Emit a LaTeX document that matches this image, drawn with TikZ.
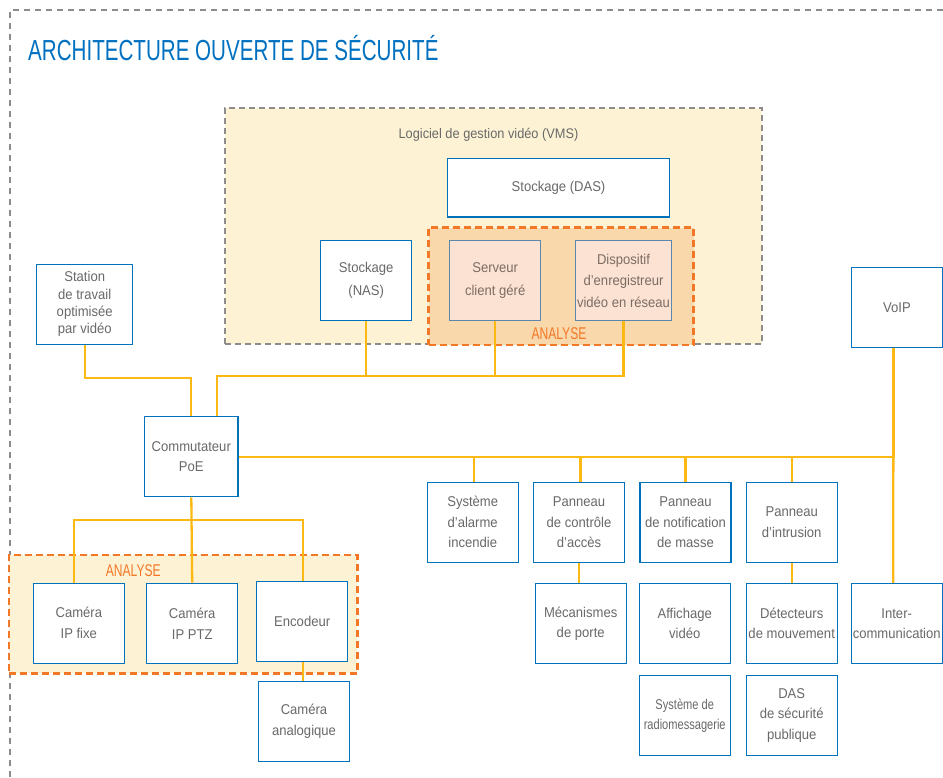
\documentclass[tikz,border=0pt]{standalone}
\usepackage{fontspec}
\setmainfont{Liberation Sans}[FakeStretch=0.92]
\newfontfamily\titlefont{Liberation Sans}[FakeStretch=0.71]
\newfontfamily\narrowfont{Liberation Sans}[FakeStretch=0.78]
\definecolor{boxblue}{RGB}{0,114,188}
\definecolor{titleblue}{RGB}{0,112,192}
\definecolor{txtgray}{RGB}{105,105,105}
\definecolor{linkyellow}{RGB}{253,185,19}
\definecolor{cream}{RGB}{253,243,212}
\definecolor{tan}{RGB}{249,216,172}
\definecolor{pinkfill}{RGB}{251,226,210}
\definecolor{pinkborder}{RGB}{90,135,170}
\definecolor{pinktext}{RGB}{125,108,100}
\definecolor{orangeline}{RGB}{242,120,40}
\definecolor{dashgray}{RGB}{140,140,140}
\tikzset{
  box/.style={draw=boxblue, line width=1.2pt, fill=white, text=txtgray, align=center,
    inner sep=0pt, minimum width=91pt, minimum height=80pt,
    font=\fontsize{14.2}{20.5}\selectfont},
  pinkbox/.style={box, fill=pinkfill, draw=pinkborder, text=pinktext},
  link/.style={draw=linkyellow, line width=2.3pt},
  vmsregion/.style={draw=dashgray, fill=cream, line width=1.1pt, dash pattern=on 6pt off 4pt, inner sep=0pt},
  anaregion/.style={draw=orangeline, line width=2.4pt, dash pattern=on 7pt off 4pt, inner sep=0pt},
  analbl/.style={text=orangeline, inner sep=0pt, font=\titlefont\fontsize{17}{20}\selectfont},
  outerborder/.style={draw=dashgray, line width=1.1pt, dash pattern=on 6pt off 5pt}
}
\begin{document}
\begin{tikzpicture}[x=1pt,y=-1pt]
\useasboundingbox (0,0) rectangle (943,777);
\draw[outerborder] (10,777) -- (10,10) -- (943,10);
\node[anchor=base west, text=titleblue, inner sep=0pt, font=\titlefont\fontsize{29}{34}\selectfont] (title) at (28,60) {ARCHITECTURE OUVERTE DE SÉCURITÉ};

% VMS region
\node[vmsregion, minimum width=537pt, minimum height=236pt] (vms) at (493.5,226) {};
\node[text=txtgray, inner sep=0pt, font=\fontsize{13.9}{16}\selectfont] (vmslbl) at (488.5,135) {Logiciel de gestion vidéo (VMS)};
\node[box, minimum width=222.5pt, minimum height=58.7pt] (das) at (558.5,187.7) {Stockage (DAS)};
\node[anaregion, fill=tan, minimum width=265pt, minimum height=117.3pt] (anatop) at (561,286.3) {};
\node[analbl] (analbltop) at (559,334) {ANALYSE};
\node[pinkbox, minimum width=90.7pt, font=\fontsize{14.2}{23}\selectfont] (serv) at (495.2,280.8) {Serveur\\client géré};
\node[pinkbox, minimum width=96.7pt, font=\fontsize{14.2}{21.5}\selectfont] (disp) at (623.5,280.8) {Dispositif\\d’enregistreur\\vidéo en réseau};
\node[box, minimum width=90.7pt, font=\fontsize{14.2}{23}\selectfont] (nas) at (366.2,280.8) {Stockage\\(NAS)};

% left column
\node[box, minimum width=96pt, font=\fontsize{14.2}{17.3}\selectfont] (station) at (84.7,304.2) {Station\\de travail\\optimisée\\par vidéo};
\node[box, minimum width=93.3pt, font=\fontsize{14.2}{20}\selectfont] (comm) at (191.3,456.8) {Commutateur\\PoE};
\node[box, minimum width=90.6pt] (voip) at (897,307.3) {VoIP};

% lower-left analyse region
\node[anaregion, fill=cream, minimum width=348.3pt, minimum height=118.3pt] (analeft) at (183.2,614.2) {};
\node[analbl] (analblleft) at (133.3,571) {ANALYSE};
\node[box, font=\fontsize{14.2}{21}\selectfont] (cam1) at (78.8,623.3) {Caméra\\IP fixe};
\node[box, font=\fontsize{14.2}{21}\selectfont] (cam2) at (192.2,623.3) {Caméra\\IP PTZ};
\node[box] (enc) at (302.2,621.5) {Encodeur};
\node[box, minimum width=90.6pt, font=\fontsize{14.2}{21}\selectfont] (analog) at (304,721.7) {Caméra\\analogique};

% right side
\node[box] (alarm) at (472.7,522.3) {Système\\d’alarme\\incendie};
\node[box] (ctrl) at (579,522.3) {Panneau\\de contrôle\\d’accès};
\node[box] (notif) at (685.5,522.3) {Panneau\\de notification\\de masse};
\node[box, font=\fontsize{14.2}{21}\selectfont] (intr) at (791.7,522.3) {Panneau\\d’intrusion};
\node[box] (meca) at (580.7,623.5) {Mécanismes\\de porte};
\node[box] (aff) at (684.7,623.5) {Affichage\\vidéo};
\node[box] (det) at (791.7,623.5) {Détecteurs\\de mouvement};
\node[box, font=\fontsize{14.2}{19.7}\selectfont] (intercom) at (896.7,623.5) {Inter-\\communication};
\node[box, font=\narrowfont\fontsize{14.2}{20}\selectfont] (radio) at (684.7,715.3) {Système de\\radiomessagerie};
\node[box] (dasp) at (791.7,715.3) {DAS\\de sécurité\\publique};

% connectors
\draw[link] (station.south) -- ++(0,33) -| (comm.north);
\draw[link] ([xshift=26pt]comm.north) |- (disp.south |- 0,376) -- (disp.south);
\draw[link] (nas.south) -- (nas.south |- 0,376);
\draw[link] (serv.south) -- (serv.south |- 0,376);

\draw[link] (comm.east) -| ([xshift=-3.5pt]voip.south);
\draw[link] ([xshift=-3.5pt]voip.south) -- ([xshift=-3.5pt]intercom.north);
\draw[link] ([xshift=1.3pt]alarm.north) -- ([xshift=1.3pt]alarm.north |- comm.east);
\draw[link] ([xshift=1.5pt]ctrl.north) -- ([xshift=1.5pt]ctrl.north |- comm.east);
\draw[link] (notif.north) -- (notif.north |- comm.east);
\draw[link] (intr.north) -- (intr.north |- comm.east);
\draw[link] (ctrl.south) -- (ctrl.south |- meca.north);
\draw[link] (intr.south) -- (intr.south |- det.north);

\coordinate (lb) at (74,520);
\coordinate (rb) at (303.3,520);
\draw[link] (comm.south) -- (cam2.north);
\draw[link] ([xshift=-4.8pt]cam1.north) -- (lb) -- (rb) -- ([xshift=1.1pt]enc.north);
\draw[link] ([xshift=1.1pt]enc.south) -- ([xshift=1.1pt]enc.south |- analog.north);
\end{tikzpicture}
\end{document}
